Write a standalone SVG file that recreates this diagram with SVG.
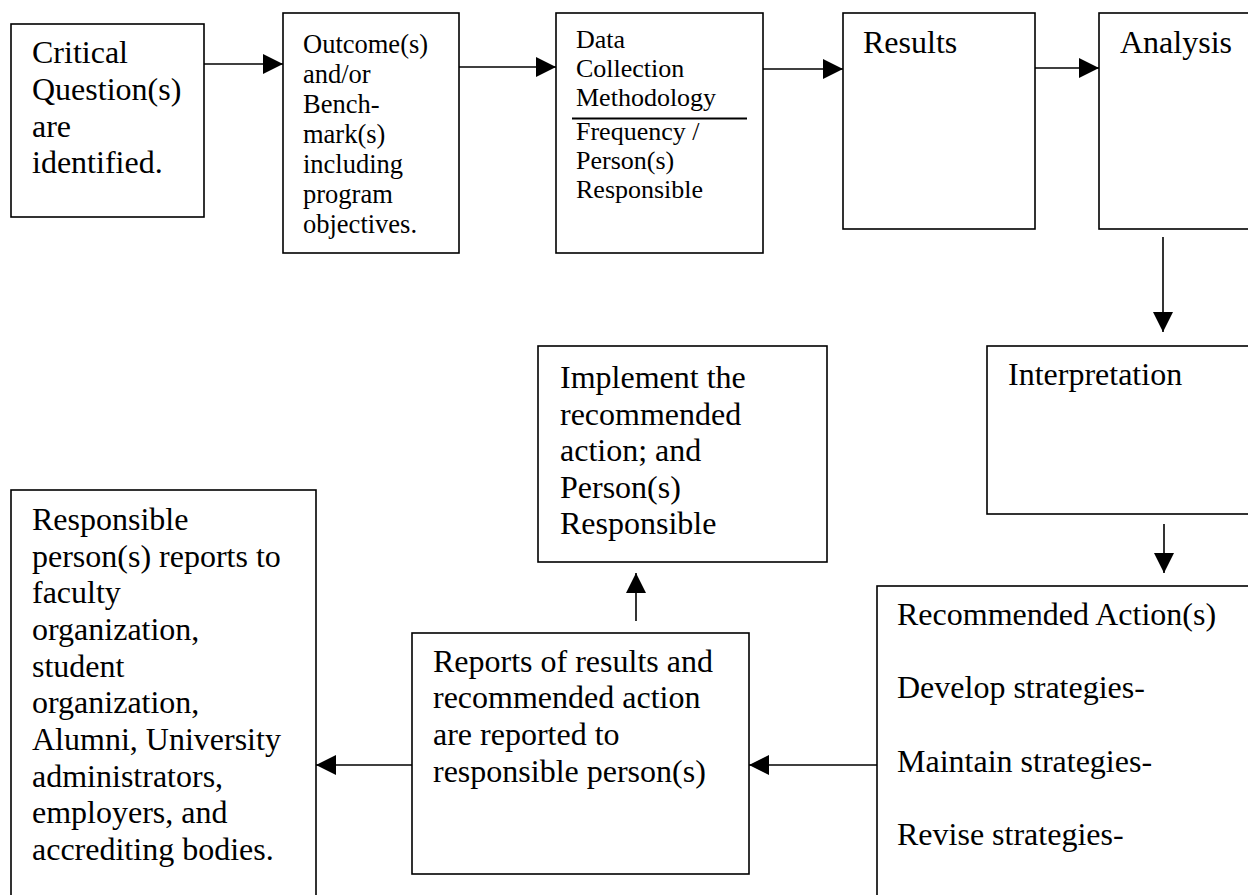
<svg xmlns="http://www.w3.org/2000/svg" width="1248" height="895" viewBox="0 0 1248 895">
<style>
.box{fill:#fff;stroke:#000;stroke-width:1.6}
.t{font-family:"Liberation Serif","Times New Roman",serif;fill:#000}
.big{font-size:32px}
.mid{font-size:26.5px}
.sm{font-size:26px}
.con line{stroke:#000;stroke-width:1.6}
</style>
<defs>
<marker id="ah" markerWidth="20" markerHeight="20" viewBox="0 0 20 20" refX="20" refY="10" orient="auto" markerUnits="userSpaceOnUse">
<path d="M0,0 L20,10 L0,20 Z" fill="#000"/>
</marker>
</defs>
<rect width="1248" height="895" fill="#fff"/>

<g id="critical">
<rect class="box" x="11" y="24" width="193" height="193"/>
<text class="t big"><tspan x="32" y="63">Critical</tspan><tspan x="32" y="100">Question(s)</tspan><tspan x="32" y="137">are</tspan><tspan x="32" y="173">identified.</tspan></text>
</g>

<g id="outcome">
<rect class="box" x="283" y="13" width="176" height="240"/>
<text class="t mid"><tspan x="303" y="53">Outcome(s)</tspan><tspan x="303" y="83">and/or</tspan><tspan x="303" y="113">Bench-</tspan><tspan x="303" y="143">mark(s)</tspan><tspan x="303" y="173">including</tspan><tspan x="303" y="203">program</tspan><tspan x="303" y="233">objectives.</tspan></text>
</g>

<g id="data">
<rect class="box" x="556" y="13" width="207" height="240"/>
<text class="t sm"><tspan x="576" y="48">Data</tspan><tspan x="576" y="77">Collection</tspan><tspan x="576" y="106">Methodology</tspan><tspan x="576" y="140">Frequency /</tspan><tspan x="576" y="169">Person(s)</tspan><tspan x="576" y="198">Responsible</tspan></text>
<line x1="572" y1="118.5" x2="747" y2="118.5" stroke="#000" stroke-width="2"/>
</g>

<g id="results">
<rect class="box" x="843" y="13" width="192" height="216"/>
<text class="t big" x="863" y="53">Results</text>
</g>

<g id="analysis">
<rect class="box" x="1099" y="13" width="160" height="216"/>
<text class="t big" x="1120" y="53">Analysis</text>
</g>

<g id="interpretation">
<rect class="box" x="987" y="346" width="272" height="168"/>
<text class="t big" x="1008" y="385">Interpretation</text>
</g>

<g id="recommended">
<rect class="box" x="877" y="586" width="382" height="320"/>
<text class="t big"><tspan x="897" y="625">Recommended Action(s)</tspan><tspan x="897" y="698">Develop strategies-</tspan><tspan x="897" y="772">Maintain strategies-</tspan><tspan x="897" y="845">Revise strategies-</tspan></text>
</g>

<g id="reports">
<rect class="box" x="412" y="633" width="337" height="241"/>
<text class="t big"><tspan x="433" y="672">Reports of results and</tspan><tspan x="433" y="708">recommended action</tspan><tspan x="433" y="745">are reported to</tspan><tspan x="433" y="782">responsible person(s)</tspan></text>
</g>

<g id="implement">
<rect class="box" x="538" y="346" width="289" height="216"/>
<text class="t big"><tspan x="560" y="388">Implement the</tspan><tspan x="560" y="424.5">recommended</tspan><tspan x="560" y="461">action; and</tspan><tspan x="560" y="497.5">Person(s)</tspan><tspan x="560" y="534">Responsible</tspan></text>
</g>

<g id="stakeholders">
<rect class="box" x="11" y="490" width="305" height="420"/>
<text class="t big"><tspan x="32" y="530">Responsible</tspan><tspan x="32" y="566.7">person(s) reports to</tspan><tspan x="32" y="603.3">faculty</tspan><tspan x="32" y="640">organization,</tspan><tspan x="32" y="676.7">student</tspan><tspan x="32" y="713.3">organization,</tspan><tspan x="32" y="750">Alumni, University</tspan><tspan x="32" y="786.7">administrators,</tspan><tspan x="32" y="823.3">employers, and</tspan><tspan x="32" y="860">accrediting bodies.</tspan></text>
</g>

<g id="connectors" class="con">
<line x1="204" y1="64" x2="283" y2="64" marker-end="url(#ah)"/>
<line x1="459" y1="67" x2="556" y2="67" marker-end="url(#ah)"/>
<line x1="763" y1="69" x2="843" y2="69" marker-end="url(#ah)"/>
<line x1="1035" y1="68" x2="1099" y2="68" marker-end="url(#ah)"/>
<line x1="1163" y1="237" x2="1163" y2="332" marker-end="url(#ah)"/>
<line x1="1164" y1="524" x2="1164" y2="573" marker-end="url(#ah)"/>
<line x1="877" y1="765" x2="749" y2="765" marker-end="url(#ah)"/>
<line x1="636" y1="621" x2="636" y2="573" marker-end="url(#ah)"/>
<line x1="412" y1="765" x2="316" y2="765" marker-end="url(#ah)"/>
</g>
</svg>
